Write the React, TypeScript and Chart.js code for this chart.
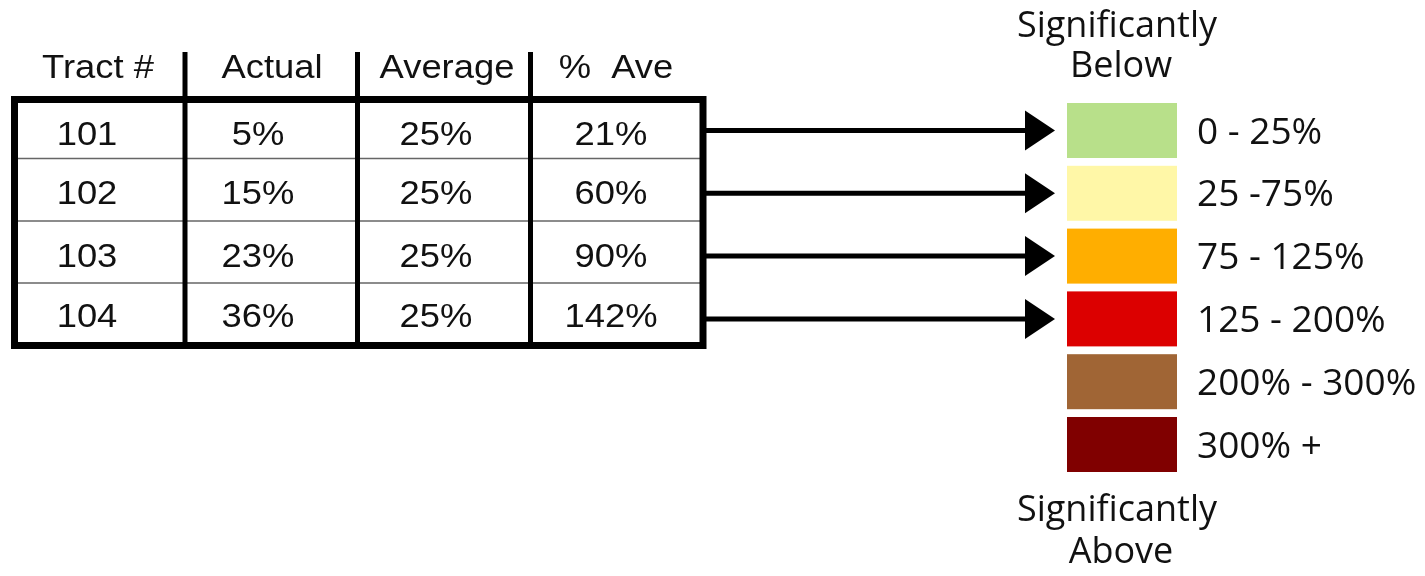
import React, { useEffect, useRef } from "react";
import { Chart, registerables } from "chart.js";

Chart.register(...registerables);

// ---------- data ----------
const headers = ["Tract #", "Actual", "Average", "%  Ave"];
const tracts = ["101", "102", "103", "104"];
const actual = [5, 15, 23, 36];
const average = [25, 25, 25, 25];
const pctAve = [21, 60, 90, 142];
const legendLabels = ["0 - 25%", "25 -75%", "75 - 125%", "125 - 200%", "200% - 300%", "300% +"];
const legendBins = [0, 25, 75, 125, 200, 300];
const legendColors = ["#b8e08a", "#fff7a7", "#ffae00", "#dc0000", "#a06535", "#800000"];
const topLabel = ["Significantly", "Below"];
const bottomLabel = ["Significantly", "Above"];

// ---------- layout (scale units) ----------
const W = 1425;
const H = 576;
const LAYOUT = {
  colEdges: [14.5, 185, 357.5, 530.5, 703],
  headerCenters: [98, 272, 447, 616],
  cellCenters: [87, 258, 436, 611],
  headerBaseline: 78,
  headerSepTop: 52,
  outerTop: 99.5,
  outerBottom: 345.5,
  rowEdges: [103, 158.5, 221, 283, 342],
  swatchLeft: 1067,
  swatchRight: 1177,
  swatchTop: 103,
  swatchPitch: 62.8,
  swatchHeight: 55,
  labelX: 1197,
  arrowBase: 1025,
  arrowTip: 1055,
  arrowHalf: 20,
  topBaselines: [37, 77],
  bottomBaselines: [521, 563],
  titleCenters: [1117, 1121],
};

const TABLE_FONT = '34px "Liberation Sans", Arial, sans-serif';
const TABLE_STRETCH = 1.07;
const LEGEND_FONT = '37px "Open Sans", "Noto Sans", sans-serif';
const NOTE_FONT = '36px "Open Sans", "Noto Sans", sans-serif';

const binIndex = (v: number) => {
  let idx = 0;
  for (let i = 0; i < legendBins.length; i++) if (v >= legendBins[i]) idx = i;
  return idx;
};
const swatchCenter = (i: number) => LAYOUT.swatchTop + i * LAYOUT.swatchPitch + LAYOUT.swatchHeight / 2;

const stretchedText = (ctx: CanvasRenderingContext2D, s: string, x: number, y: number) => {
  ctx.save();
  ctx.translate(x, y);
  ctx.scale(TABLE_STRETCH, 1);
  ctx.fillText(s, 0, 0);
  ctx.restore();
};

const diagramPlugin = {
  id: "diagram",
  beforeDatasetsDraw(chart: any) {
    const ctx = chart.ctx as CanvasRenderingContext2D;
    const xs = chart.scales.x;
    const ys = chart.scales.y;
    const X = (v: number) => xs.getPixelForValue(v);
    const Y = (v: number) => ys.getPixelForValue(v);
    const L = LAYOUT;
    ctx.save();
    ctx.fillStyle = "#ffffff";
    ctx.fillRect(0, 0, chart.width, chart.height);

    // header texts
    ctx.fillStyle = "#111";
    ctx.font = TABLE_FONT;
    ctx.textAlign = "center";
    ctx.textBaseline = "alphabetic";
    headers.forEach((h, i) => stretchedText(ctx, h, X(L.headerCenters[i]), Y(L.headerBaseline)));

    // header separators
    ctx.strokeStyle = "#000";
    ctx.lineWidth = 5;
    for (let i = 1; i < 4; i++) {
      ctx.beginPath();
      ctx.moveTo(X(L.colEdges[i]), Y(L.headerSepTop));
      ctx.lineTo(X(L.colEdges[i]), Y(L.outerTop));
      ctx.stroke();
    }

    // row separators (thin)
    ctx.strokeStyle = "#666";
    ctx.lineWidth = 1.5;
    for (let r = 1; r < tracts.length; r++) {
      ctx.beginPath();
      ctx.moveTo(X(L.colEdges[0]), Y(L.rowEdges[r]));
      ctx.lineTo(X(L.colEdges[4]), Y(L.rowEdges[r]));
      ctx.stroke();
    }

    // column separators inside table
    ctx.strokeStyle = "#000";
    ctx.lineWidth = 5;
    for (let i = 1; i < 4; i++) {
      ctx.beginPath();
      ctx.moveTo(X(L.colEdges[i]), Y(L.outerTop));
      ctx.lineTo(X(L.colEdges[i]), Y(L.outerBottom));
      ctx.stroke();
    }

    // outer border
    ctx.lineWidth = 7;
    ctx.strokeRect(
      X(L.colEdges[0]),
      Y(L.outerTop),
      X(L.colEdges[4]) - X(L.colEdges[0]),
      Y(L.outerBottom) - Y(L.outerTop)
    );

    // cells
    ctx.fillStyle = "#111";
    ctx.font = TABLE_FONT;
    ctx.textAlign = "center";
    const rows = tracts.map((t, r) => [t, actual[r] + "%", average[r] + "%", pctAve[r] + "%"]);
    rows.forEach((row, r) => {
      const cy = (L.rowEdges[r] + L.rowEdges[r + 1]) / 2 + 2.5;
      row.forEach((s, c) => stretchedText(ctx, s, X(L.cellCenters[c]), Y(cy + 12)));
    });

    // legend swatches
    legendColors.forEach((col, i) => {
      const top = L.swatchTop + i * L.swatchPitch;
      ctx.fillStyle = col;
      ctx.fillRect(X(L.swatchLeft), Y(top), X(L.swatchRight) - X(L.swatchLeft), Y(top + L.swatchHeight) - Y(top));
    });

    // legend labels
    ctx.fillStyle = "#111";
    ctx.font = LEGEND_FONT;
    ctx.textAlign = "left";
    legendLabels.forEach((s, i) => {
      ctx.fillText(s, X(L.labelX), Y(swatchCenter(i) + 13));
    });

    // notes
    ctx.font = NOTE_FONT;
    ctx.textAlign = "center";
    topLabel.forEach((s, i) => ctx.fillText(s, X(L.titleCenters[i]), Y(L.topBaselines[i])));
    bottomLabel.forEach((s, i) => ctx.fillText(s, X(L.titleCenters[i]), Y(L.bottomBaselines[i])));
    ctx.restore();
  },
  afterDatasetsDraw(chart: any) {
    const ctx = chart.ctx as CanvasRenderingContext2D;
    const xs = chart.scales.x;
    const ys = chart.scales.y;
    const L = LAYOUT;
    ctx.save();
    ctx.fillStyle = "#000";
    pctAve.forEach((v) => {
      const cy = swatchCenter(binIndex(v));
      ctx.beginPath();
      ctx.moveTo(xs.getPixelForValue(L.arrowBase), ys.getPixelForValue(cy - L.arrowHalf));
      ctx.lineTo(xs.getPixelForValue(L.arrowTip), ys.getPixelForValue(cy));
      ctx.lineTo(xs.getPixelForValue(L.arrowBase), ys.getPixelForValue(cy + L.arrowHalf));
      ctx.closePath();
      ctx.fill();
    });
    ctx.restore();
  },
};

export default function App() {
  const ref = useRef<HTMLCanvasElement>(null);
  useEffect(() => {
    if (!ref.current) return;
    const datasets = pctAve.map((v, i) => {
      const cy = swatchCenter(binIndex(v));
      return {
        label: "Tract " + tracts[i],
        data: [
          { x: LAYOUT.colEdges[4], y: cy },
          { x: LAYOUT.arrowBase + 4, y: cy },
        ],
        showLine: true,
        borderColor: "#000",
        borderWidth: 5,
        pointRadius: 0,
        borderCapStyle: "butt" as const,
      };
    });
    const chart = new Chart(ref.current, {
      type: "scatter",
      data: { datasets },
      options: {
        animation: false,
        responsive: false,
        devicePixelRatio: 1,
        layout: { padding: 0 },
        plugins: { legend: { display: false }, tooltip: { enabled: false }, title: { display: false } },
        events: [],
        scales: {
          x: { type: "linear", min: 0, max: W, display: false },
          y: { type: "linear", min: 0, max: H, reverse: true, display: false },
        },
      },
      plugins: [diagramPlugin],
    });
    return () => chart.destroy();
  }, []);
  return (
    <div style={{ position: "absolute", left: 0, top: 0, width: W, height: H, background: "#fff" }}>
      <canvas ref={ref} width={W} height={H} style={{ display: "block" }} />
    </div>
  );
}
